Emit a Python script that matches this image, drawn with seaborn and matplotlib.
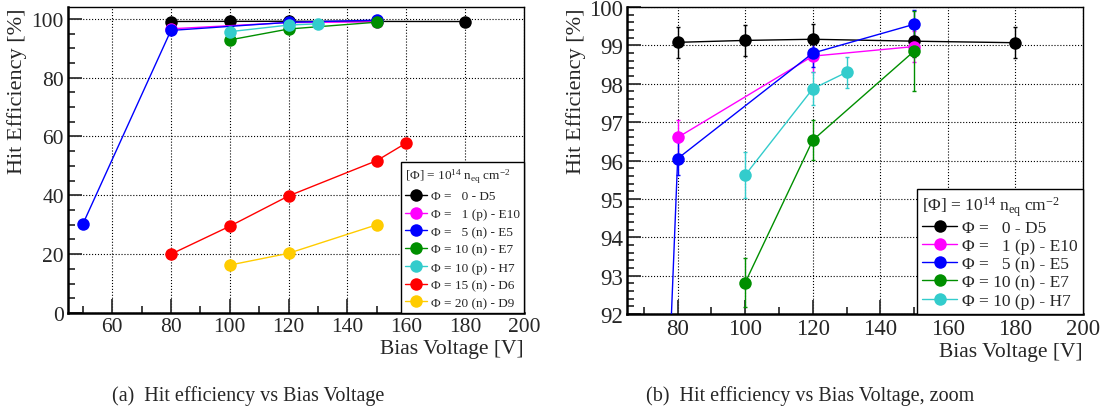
import pandas as pd
import numpy as np
import seaborn as sb
from matplotlib import pyplot as plt
from matplotlib.ticker import MultipleLocator

sb.set_style("ticks")
plt.rcParams["font.family"] = ["Liberation Serif", "DejaVu Serif"]
plt.rcParams["mathtext.fontset"] = "custom"
plt.rcParams["mathtext.rm"] = "Liberation Serif"
plt.rcParams["mathtext.it"] = "Liberation Serif:italic"

# values (bias voltage [V], efficiency [%], error [%])
d5_v = [80, 100, 120, 150, 180]
d5_eff = [99.08, 99.13, 99.16, 99.11, 99.07]
d5_err = [0.41, 0.41, 0.41, 0.41, 0.41]

e10_v = [80, 120, 150]
e10_eff = [96.60, 98.72, 98.97]
e10_err = [0.46, 0.41, 0.40]

e5_v = [50, 80, 120, 150]
e5_eff = [30.1, 96.05, 98.80, 99.55]
e5_err = [0.5, 0.42, 0.36, 0.36]

e7_v = [100, 120, 150]
e7_eff = [92.82, 96.53, 98.85]
e7_err = [0.64, 0.52, 1.05]

h7_v = [100, 120, 130]
h7_eff = [95.62, 97.87, 98.30]
h7_err = [0.60, 0.43, 0.40]

d6_v = [80, 100, 120, 150, 160]
d6_eff = [20.0, 29.5, 39.8, 51.8, 57.8]
d6_err = [0.5, 0.5, 0.5, 0.5, 0.5]

d9_v = [100, 120, 150]
d9_eff = [16.3, 20.3, 30.0]
d9_err = [0.5, 0.5, 0.5]

labels = ["\u03a6 =   0 - D5", "\u03a6 =   1 (p) - E10", "\u03a6 =   5 (n) - E5",
          "\u03a6 = 10 (n) - E7", "\u03a6 = 10 (p) - H7", "\u03a6 = 15 (n) - D6",
          "\u03a6 = 20 (n) - D9"]
colors = ["#000000", "#ff00ff", "#0000ff", "#008f00", "#33cccc", "#ff0000", "#ffcc00"]
series = [(d5_v, d5_eff, d5_err), (e10_v, e10_eff, e10_err), (e5_v, e5_eff, e5_err),
          (e7_v, e7_eff, e7_err), (h7_v, h7_eff, h7_err), (d6_v, d6_eff, d6_err),
          (d9_v, d9_eff, d9_err)]

frames = []
for lab, (v, e, err) in zip(labels, series):
    frames.append(pd.DataFrame({"voltage": v, "eff": e, "err": err, "sample": lab}))
data = pd.concat(frames, ignore_index=True)

legend_title = "[\u03a6] = 10$^{\\mathrm{14}}$ n$_{\\mathrm{eq}}$ cm$^{\\mathrm{-2}}$"

fig = plt.figure(figsize=(11.07, 4.14), dpi=100)
ax1 = fig.add_axes([0.0614, 0.2415, 0.4119, 0.7391])
ax2 = fig.add_axes([0.5664, 0.2391, 0.4119, 0.7415])


def draw(ax, samples, legend_size, spacing, tick_size, handle_len):
    sub = data[data["sample"].isin(samples)]
    palette = {l: c for l, c in zip(labels, colors)}
    sb.lineplot(data=sub, x="voltage", y="eff", hue="sample", hue_order=samples,
                palette=palette, marker="o", markersize=9, markeredgewidth=0,
                linewidth=1.0, estimator=None, sort=False, ax=ax, zorder=3)
    for lab in samples:
        s = sub[sub["sample"] == lab]
        ax.errorbar(s["voltage"], s["eff"], yerr=s["err"], fmt="none",
                    ecolor=palette[lab], elinewidth=1.0, capsize=1.5, zorder=2)
    leg = ax.legend(title=legend_title, loc="lower right", borderaxespad=0,
                    fontsize=legend_size, title_fontsize=legend_size, fancybox=False,
                    edgecolor="black", framealpha=1, handlelength=handle_len,
                    labelspacing=spacing, borderpad=0.3, handletextpad=0.3)
    leg._legend_box.align = "left"
    leg.get_frame().set_linewidth(1.0)
    ax.grid(True, which="major", linestyle=":", color="black", linewidth=0.8)
    ax.tick_params(which="both", direction="in", labelsize=tick_size, top=False, right=False,
                   width=1.3, color="#333333")
    ax.tick_params(which="major", length=10, pad=3)
    ax.tick_params(which="minor", length=5)
    ax.xaxis.set_minor_locator(MultipleLocator(10))
    for sp in ax.spines.values():
        sp.set_visible(True)
        sp.set_color("black")
        sp.set_linewidth(1.0)
    ax.spines["bottom"].set_linewidth(1.8)
    ax.spines["left"].set_linewidth(1.8)
    ax.set_xlabel("Bias Voltage [V]", fontsize=15.5, loc="right", labelpad=2)
    ax.set_ylabel("Hit Efficiency [%]", fontsize=16, loc="top")
    ax.yaxis.set_label_coords(-0.089, 1.0)


draw(ax1, labels, 9.5, 0.42, 15.5, 1.7)
ax1.set_xlim(45, 200)
ax1.set_ylim(0, 104)
ax1.xaxis.set_major_locator(MultipleLocator(20))
ax1.yaxis.set_major_locator(MultipleLocator(20))
ax1.yaxis.set_minor_locator(MultipleLocator(5))

draw(ax2, labels[:5], 12.5, 0.12, 16.5, 2.0)
ax2.set_xlim(65, 200)
ax2.set_ylim(92, 100)
ax2.xaxis.set_major_locator(MultipleLocator(20))
ax2.yaxis.set_major_locator(MultipleLocator(1))
ax2.yaxis.set_minor_locator(MultipleLocator(0.2))

fig.text(0.224, 0.044, "(a)  Hit efficiency vs Bias Voltage", fontsize=14.5, ha="center", va="center")
fig.text(0.732, 0.044, "(b)  Hit efficiency vs Bias Voltage, zoom", fontsize=14.5, ha="center", va="center")

fig.savefig("out.png", dpi=100)
